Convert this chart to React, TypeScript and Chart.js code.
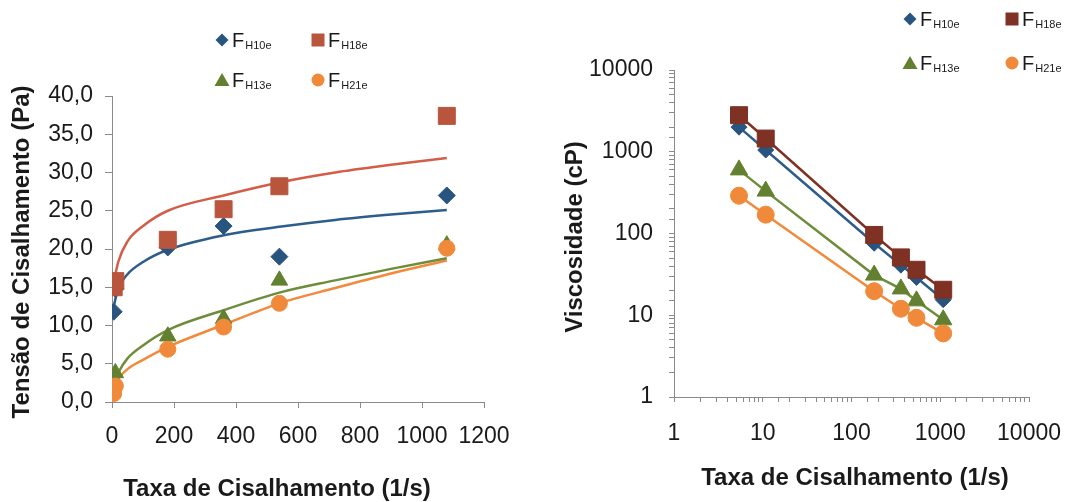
import React, { useEffect, useRef } from 'react';
import { Chart, registerables } from 'chart.js';

Chart.register(...registerables);

// ---------- data ----------
const shearRate = [5.4, 10.8, 180, 360, 540, 1080];

const stressH10e = [11.8, 14.8, 20.2, 23.0, 19.0, 27.0];
const stressH18e = [15.0, 15.8, 21.2, 25.2, 28.2, 37.4];
const stressH13e = [3.0, 3.8, 8.6, 10.9, 15.9, 20.5];
const stressH21e = [1.1, 2.1, 6.9, 9.8, 12.9, 20.1];

const trendRate = [5.4, 20, 50, 100, 180, 360, 540, 720, 900, 1080];
const trendH10e = [12.5, 14.8, 16.7, 18.3, 19.9, 21.8, 22.9, 23.8, 24.5, 25.1];
const trendH18e = [15.5, 18.3, 21.0, 23.0, 25.0, 27.0, 28.7, 30.0, 31.0, 31.9];
const trendH13e = [2.3, 3.8, 5.7, 7.4, 9.4, 12.0, 14.3, 15.9, 17.4, 18.8];
const trendH21e = [1.8, 3.0, 4.3, 5.5, 7.2, 10.1, 12.9, 14.9, 16.8, 18.5];

const viscH10e = [2000, 1050, 76, 41, 29, 15.5];
const viscH18e = [2800, 1450, 96, 51, 36, 20.5];
const viscH13e = [600, 330, 31, 21, 15, 8.8];
const viscH21e = [290, 170, 19.7, 12, 9.3, 6.0];

const seriesSubs = ['H10e', 'H18e', 'H13e', 'H21e'];

const leftYTitle = 'Tensão de Cisalhamento (Pa)';
const rightYTitle = 'Viscosidade (cP)';
const xTitle = 'Taxa de Cisalhamento (1/s)';

// ---------- styles ----------
const BLUE = '#28557f';
const RED_L = '#b9543d';
const RED_R = '#7f3123';
const GREEN = '#62802f';
const ORANGE = '#f08a3a';
const BLUE_LINE = '#2d5d8b';
const RED_LINE = '#d35d47';
const GREEN_LINE = '#6e8d3b';
const ORANGE_LINE = '#f2893b';
const AXIS = '#8a8a8a';
const TEXT = '#1a1a1a';
const TICK_FONT = { family: "'Liberation Sans', Arial, sans-serif", size: 23 };
const TITLE_FONT = "bold 24px 'Liberation Sans', Arial, sans-serif";

const pts = (xs: number[], ys: number[]) => xs.map((x, i) => ({ x, y: ys[i] }));

type Shape = 'diamond' | 'square' | 'triangle' | 'circle';

function drawMarker(ctx: CanvasRenderingContext2D, shape: Shape, x: number, y: number, color: string) {
  ctx.save();
  ctx.fillStyle = color;
  ctx.beginPath();
  if (shape === 'diamond') {
    const r = 6.5;
    ctx.moveTo(x, y - r); ctx.lineTo(x + r, y); ctx.lineTo(x, y + r); ctx.lineTo(x - r, y); ctx.closePath();
  } else if (shape === 'square') {
    ctx.rect(x - 6.5, y - 6.5, 13, 13);
  } else if (shape === 'triangle') {
    ctx.moveTo(x, y - 7); ctx.lineTo(x + 7.5, y + 6); ctx.lineTo(x - 7.5, y + 6); ctx.closePath();
  } else {
    ctx.arc(x, y, 6.5, 0, Math.PI * 2);
  }
  ctx.fill();
  ctx.restore();
}

type LegendItem = { sub: string; shape: Shape; color: string; x: number; y: number };
type TitleItem = { text: string; x: number; y: number; rotate?: number };

function makeOverlay(titles: TitleItem[], legend: LegendItem[]) {
  return {
    id: 'overlay',
    afterDraw(chart: any) {
      const ctx: CanvasRenderingContext2D = chart.ctx;
      for (const t of titles) {
        ctx.save();
        ctx.translate(t.x, t.y);
        if (t.rotate) ctx.rotate(t.rotate);
        ctx.font = TITLE_FONT;
        ctx.fillStyle = TEXT;
        ctx.textAlign = 'center';
        ctx.textBaseline = 'middle';
        ctx.fillText(t.text, 0, 0);
        ctx.restore();
      }
      for (const it of legend) {
        drawMarker(ctx, it.shape, it.x, it.y, it.color);
        ctx.save();
        ctx.fillStyle = TEXT;
        ctx.textBaseline = 'alphabetic';
        ctx.textAlign = 'left';
        ctx.font = "20px 'Liberation Sans', Arial, sans-serif";
        const fx = it.x + 10;
        ctx.fillText('F', fx, it.y + 7);
        const fw = ctx.measureText('F').width;
        ctx.font = "11px 'Liberation Sans', Arial, sans-serif";
        ctx.fillText(it.sub, fx + fw + 1, it.y + 9);
        ctx.restore();
      }
    },
  };
}

function LeftChart() {
  const ref = useRef<HTMLCanvasElement | null>(null);
  useEffect(() => {
    if (!ref.current) return;
    const markers = (label: string, ys: number[], style: string, color: string, radius: number, order: number) => ({
      label, data: pts(shearRate, ys), pointStyle: style, pointRadius: radius,
      backgroundColor: color, borderColor: color, pointBorderWidth: 1, showLine: false, order,
    });
    const trend = (label: string, ys: number[], color: string, order: number) => ({
      label, data: pts(trendRate, ys), showLine: true, pointRadius: 0, borderColor: color,
      borderWidth: 2.5, cubicInterpolationMode: 'monotone', order, backgroundColor: color,
    });
    const chart = new Chart(ref.current, {
      type: 'scatter',
      data: {
        datasets: [
          trend('t10', trendH10e, BLUE_LINE, 10),
          trend('t18', trendH18e, RED_LINE, 11),
          trend('t13', trendH13e, GREEN_LINE, 12),
          trend('t21', trendH21e, ORANGE_LINE, 13),
          markers('F' + seriesSubs[0], stressH10e, 'rectRot', BLUE, 8.5, 4),
          markers('F' + seriesSubs[1], stressH18e, 'rect', RED_L, 12, 3),
          markers('F' + seriesSubs[2], stressH13e, 'triangle', GREEN, 9.5, 2),
          markers('F' + seriesSubs[3], stressH21e, 'circle', ORANGE, 8, 1),
        ] as any,
      },
      options: {
        animation: false,
        responsive: false,
        events: [],
        layout: { padding: { left: 0, right: 56, top: 96, bottom: 40 } },
        plugins: { legend: { display: false }, tooltip: { enabled: false } },
        scales: {
          x: {
            type: 'linear', min: 0, max: 1200,
            ticks: {
              stepSize: 200, color: TEXT, font: TICK_FONT, padding: 15, maxRotation: 0, autoSkip: false,
              callback: (v: any) => String(Math.round(Number(v))),
            },
            grid: { drawOnChartArea: false, drawTicks: true, tickLength: 6, tickColor: AXIS },
            border: { color: AXIS, width: 1 },
            afterFit: (s: any) => { s.height = 60; },
          },
          y: {
            type: 'linear', min: 0, max: 40,
            ticks: {
              stepSize: 5, color: TEXT, font: TICK_FONT, padding: 12,
              callback: (v: any) => Number(v).toFixed(1).replace('.', ','),
            },
            grid: { drawOnChartArea: false, drawTicks: true, tickLength: 7, tickColor: AXIS },
            border: { color: AXIS, width: 1 },
            afterFit: (s: any) => { s.width = 112; },
          },
        },
      } as any,
      plugins: [
        makeOverlay(
          [
            { text: leftYTitle, x: 22, y: 252, rotate: -Math.PI / 2 },
            { text: xTitle, x: 277, y: 489 },
          ],
          [
            { sub: seriesSubs[0], shape: 'diamond', color: BLUE, x: 222, y: 40 },
            { sub: seriesSubs[1], shape: 'square', color: RED_L, x: 318, y: 40 },
            { sub: seriesSubs[2], shape: 'triangle', color: GREEN, x: 222, y: 80 },
            { sub: seriesSubs[3], shape: 'circle', color: ORANGE, x: 318, y: 80 },
          ],
        ),
      ],
    });
    return () => chart.destroy();
  }, []);
  return <canvas ref={ref} width={540} height={502} style={{ position: 'absolute', left: 0, top: 0 }} />;
}

function RightChart() {
  const ref = useRef<HTMLCanvasElement | null>(null);
  useEffect(() => {
    if (!ref.current) return;
    const series = (label: string, ys: number[], style: string, color: string, line: string, radius: number, order: number) => ({
      label, data: pts(shearRate, ys), pointStyle: style, pointRadius: radius,
      backgroundColor: color, borderColor: line, pointBorderColor: color, pointBorderWidth: 1,
      showLine: true, borderWidth: 2.5, order,
    });
    const logLabel = (v: any) => {
      const l = Math.log10(Number(v));
      return Math.abs(l - Math.round(l)) < 1e-9 ? String(Math.round(Number(v))) : '';
    };
    const chart = new Chart(ref.current, {
      type: 'scatter',
      data: {
        datasets: [
          series('F' + seriesSubs[0], viscH10e, 'rectRot', BLUE, BLUE_LINE, 8, 4),
          series('F' + seriesSubs[1], viscH18e, 'rect', RED_R, RED_R, 12, 3),
          series('F' + seriesSubs[2], viscH13e, 'triangle', GREEN, GREEN_LINE, 10, 2),
          series('F' + seriesSubs[3], viscH21e, 'circle', ORANGE, ORANGE_LINE, 8.5, 1),
        ] as any,
      },
      options: {
        animation: false,
        responsive: false,
        events: [],
        layout: { padding: { left: 0, right: 46, top: 70, bottom: 45 } },
        plugins: { legend: { display: false }, tooltip: { enabled: false } },
        scales: {
          x: {
            type: 'logarithmic', min: 1, max: 10000,
            ticks: { color: TEXT, font: TICK_FONT, padding: 18, maxRotation: 0, autoSkip: false, callback: logLabel },
            grid: { drawOnChartArea: false, drawTicks: true, tickLength: 5, tickColor: AXIS },
            border: { color: AXIS, width: 1 },
            afterFit: (s: any) => { s.height = 60; },
          },
          y: {
            type: 'logarithmic', min: 1, max: 10000,
            ticks: { color: TEXT, font: TICK_FONT, padding: 16, autoSkip: false, callback: logLabel },
            grid: { drawOnChartArea: false, drawTicks: true, tickLength: 5, tickColor: AXIS },
            border: { color: AXIS, width: 1 },
            afterFit: (s: any) => { s.width = 134; },
          },
        },
      } as any,
      plugins: [
        makeOverlay(
          [
            { text: rightYTitle, x: 35, y: 237, rotate: -Math.PI / 2 },
            { text: xTitle, x: 315, y: 478 },
          ],
          [
            { sub: seriesSubs[0], shape: 'diamond', color: BLUE, x: 370, y: 19 },
            { sub: seriesSubs[1], shape: 'square', color: RED_R, x: 472, y: 19 },
            { sub: seriesSubs[2], shape: 'triangle', color: GREEN, x: 370, y: 63 },
            { sub: seriesSubs[3], shape: 'circle', color: ORANGE, x: 472, y: 63 },
          ],
        ),
      ],
    });
    return () => chart.destroy();
  }, []);
  return <canvas ref={ref} width={539} height={502} style={{ position: 'absolute', left: 540, top: 0 }} />;
}

export default function App() {
  return (
    <div style={{ position: 'fixed', left: 0, top: 0, width: 1079, height: 502, background: '#ffffff', overflow: 'hidden' }}>
      <LeftChart />
      <RightChart />
    </div>
  );
}
